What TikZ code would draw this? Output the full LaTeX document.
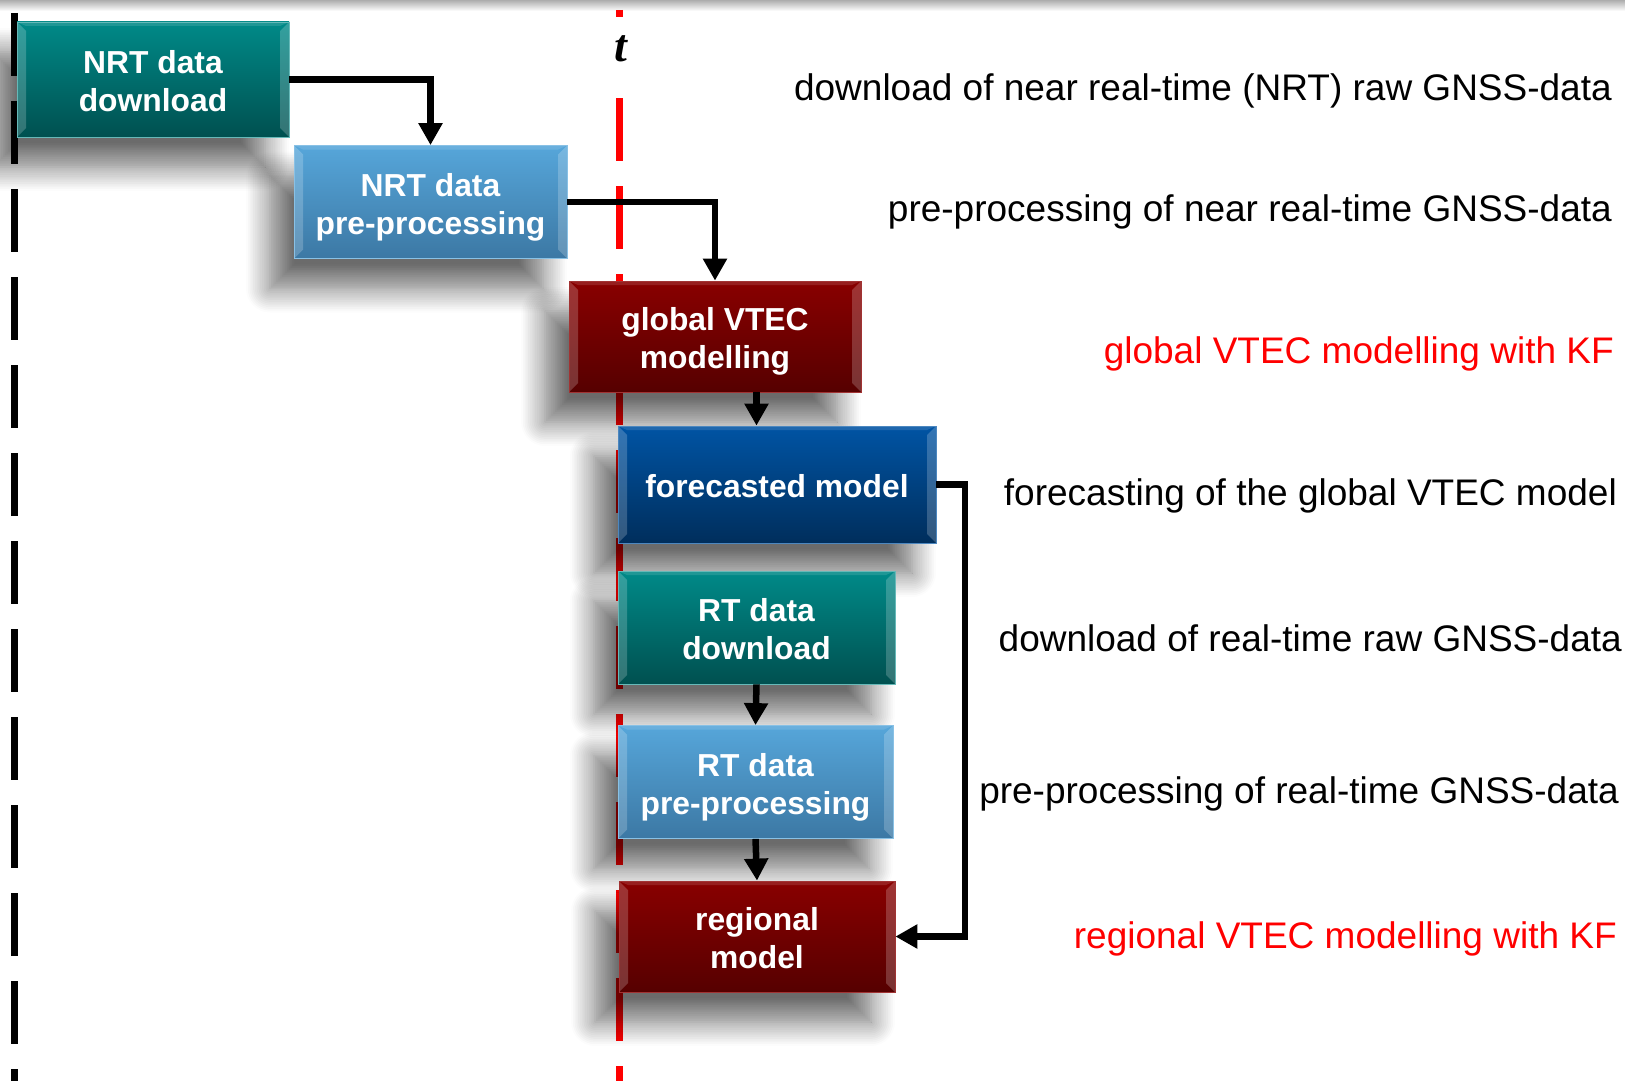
\documentclass[tikz,border=0pt]{standalone}
\usepackage{fontspec}
\setmainfont{Liberation Sans}
\newfontfamily\serifit{Liberation Serif}
\usetikzlibrary{arrows.meta,shadows.blur}

\definecolor{tealtop}{RGB}{0,138,136}
\definecolor{tealbot}{RGB}{0,80,80}
\definecolor{skytop}{RGB}{86,166,218}
\definecolor{skybot}{RGB}{60,120,164}
\definecolor{winetop}{RGB}{137,0,0}
\definecolor{winebot}{RGB}{86,0,0}
\definecolor{navytop}{RGB}{0,84,164}
\definecolor{navybot}{RGB}{0,46,92}
\definecolor{timered}{RGB}{255,0,0}

% stage label: centred lines, ink lowered a little inside an unchanged box
\newcommand\stagetext[1]{\raisebox{-5.5pt}[\height][\depth]{\begin{tabular}{@{}c@{}}#1\end{tabular}}}

\tikzset{
  bevel/.style={path picture={
    \fill[white,fill opacity=.2]
      (path picture bounding box.north west)
      -- ([shift={(9pt,-9pt)}]path picture bounding box.north west)
      -- ([shift={(9pt,9pt)}]path picture bounding box.south west)
      -- (path picture bounding box.south west) -- cycle;
    \fill[white,fill opacity=.2]
      (path picture bounding box.north east)
      -- ([shift={(-9pt,-9pt)}]path picture bounding box.north east)
      -- ([shift={(-9pt,9pt)}]path picture bounding box.south east)
      -- (path picture bounding box.south east) -- cycle;
    \fill[white,fill opacity=.12]
      (path picture bounding box.north west)
      -- ([shift={(9pt,-4pt)}]path picture bounding box.north west)
      -- ([shift={(-9pt,-4pt)}]path picture bounding box.north east)
      -- (path picture bounding box.north east) -- cycle;
  }},
  stagebox/.style={rectangle, inner sep=0pt, text=white,
    font=\fontsize{31.8}{38.3}\selectfont\bfseries,
    blur shadow={shadow xshift=-24pt, shadow yshift=-30pt,
      shadow blur radius=24pt, shadow blur steps=14, shadow opacity=58},
    line width=0.8pt, bevel},
  tealbox/.style={stagebox, top color=tealtop, bottom color=tealbot, draw=tealtop!60!white},
  skybox/.style={stagebox, top color=skytop, bottom color=skybot, draw=skytop!70!white},
  winebox/.style={stagebox, top color=winetop, bottom color=winebot, draw=winetop!80!white},
  navybox/.style={stagebox, top color=navytop, bottom color=navybot, draw=navytop!70!white},
  flow/.style={line width=6.5pt, -{Triangle[length=22pt,width=23pt]}},
  note/.style={anchor=base east, inner sep=0pt, font=\fontsize{37}{44}\selectfont},
  rednote/.style={note, text=timered}
}

\begin{document}
\begin{tikzpicture}[x=1pt,y=-1pt]
\useasboundingbox (0,0) rectangle (1625,1081);

% faint grey band along the top edge
\shade[top color=black!32, bottom color=white] (0,0) rectangle (1625,11);

% time axes: start of the interval and current epoch t
\draw[line width=7pt, dash pattern=on 63pt off 25pt] (14,13) -- (14,1081);
\draw[timered, line width=7pt] (619,10) -- (619,17);
\draw[timered, line width=7pt, dash pattern=on 63pt off 25pt] (619,98) -- (619,1081);
\node (t) at (621,49) {\fontsize{46}{46}\selectfont\serifit\bfseries\itshape t};

% processing stages
\node[tealbox, minimum width=272pt, minimum height=115pt] (nrtdl) at (153,79.5) {\stagetext{NRT data\\download}};
\node[skybox, minimum width=273pt, minimum height=113pt] (nrtpre) at (430.5,202) {\stagetext{NRT data\\pre-processing}};
\node[winebox, minimum width=292pt, minimum height=111pt] (glob) at (715,336.5) {\stagetext{global VTEC\\modelling}};
\node[navybox, minimum width=318pt, minimum height=117pt] (fore) at (777,484.5) {\stagetext{forecasted model}};
\node[tealbox, minimum width=277pt, minimum height=113pt] (rtdl) at (756.5,627.5) {\stagetext{RT data\\download}};
\node[skybox, minimum width=275pt, minimum height=113pt] (rtpre) at (755.5,782) {\stagetext{RT data\\pre-processing}};
\node[winebox, minimum width=276pt, minimum height=111pt] (reg) at (757,936.5) {\stagetext{regional\\model}};

% data flow
\draw[flow] (nrtdl.east) -| (nrtpre.north);
\draw[flow] (nrtpre.east) -| (glob.north);
\draw[flow] (glob.south -| rtdl.north) -- (fore.north -| rtdl.north);
\draw[flow] (fore.east) -- ++(28.5,0) |- (reg.east);
\draw[flow] (rtdl.south) -- (rtpre.north);
\draw[flow] (rtpre.south) -- (reg.north);

% descriptions
\node[note] (d1) at (1612,100) {download of near real-time (NRT) raw GNSS-data};
\node[note] (d2) at (1612,221) {pre-processing of near real-time GNSS-data};
\node[rednote] (d3) at (1614,363) {global VTEC modelling with KF};
\node[note] (d4) at (1617,505) {forecasting of the global VTEC model};
\node[note] (d5) at (1622,651) {download of real-time raw GNSS-data};
\node[note] (d6) at (1619,803) {pre-processing of real-time GNSS-data};
\node[rednote] (d7) at (1617,948) {regional VTEC modelling with KF};
\end{tikzpicture}
\end{document}
